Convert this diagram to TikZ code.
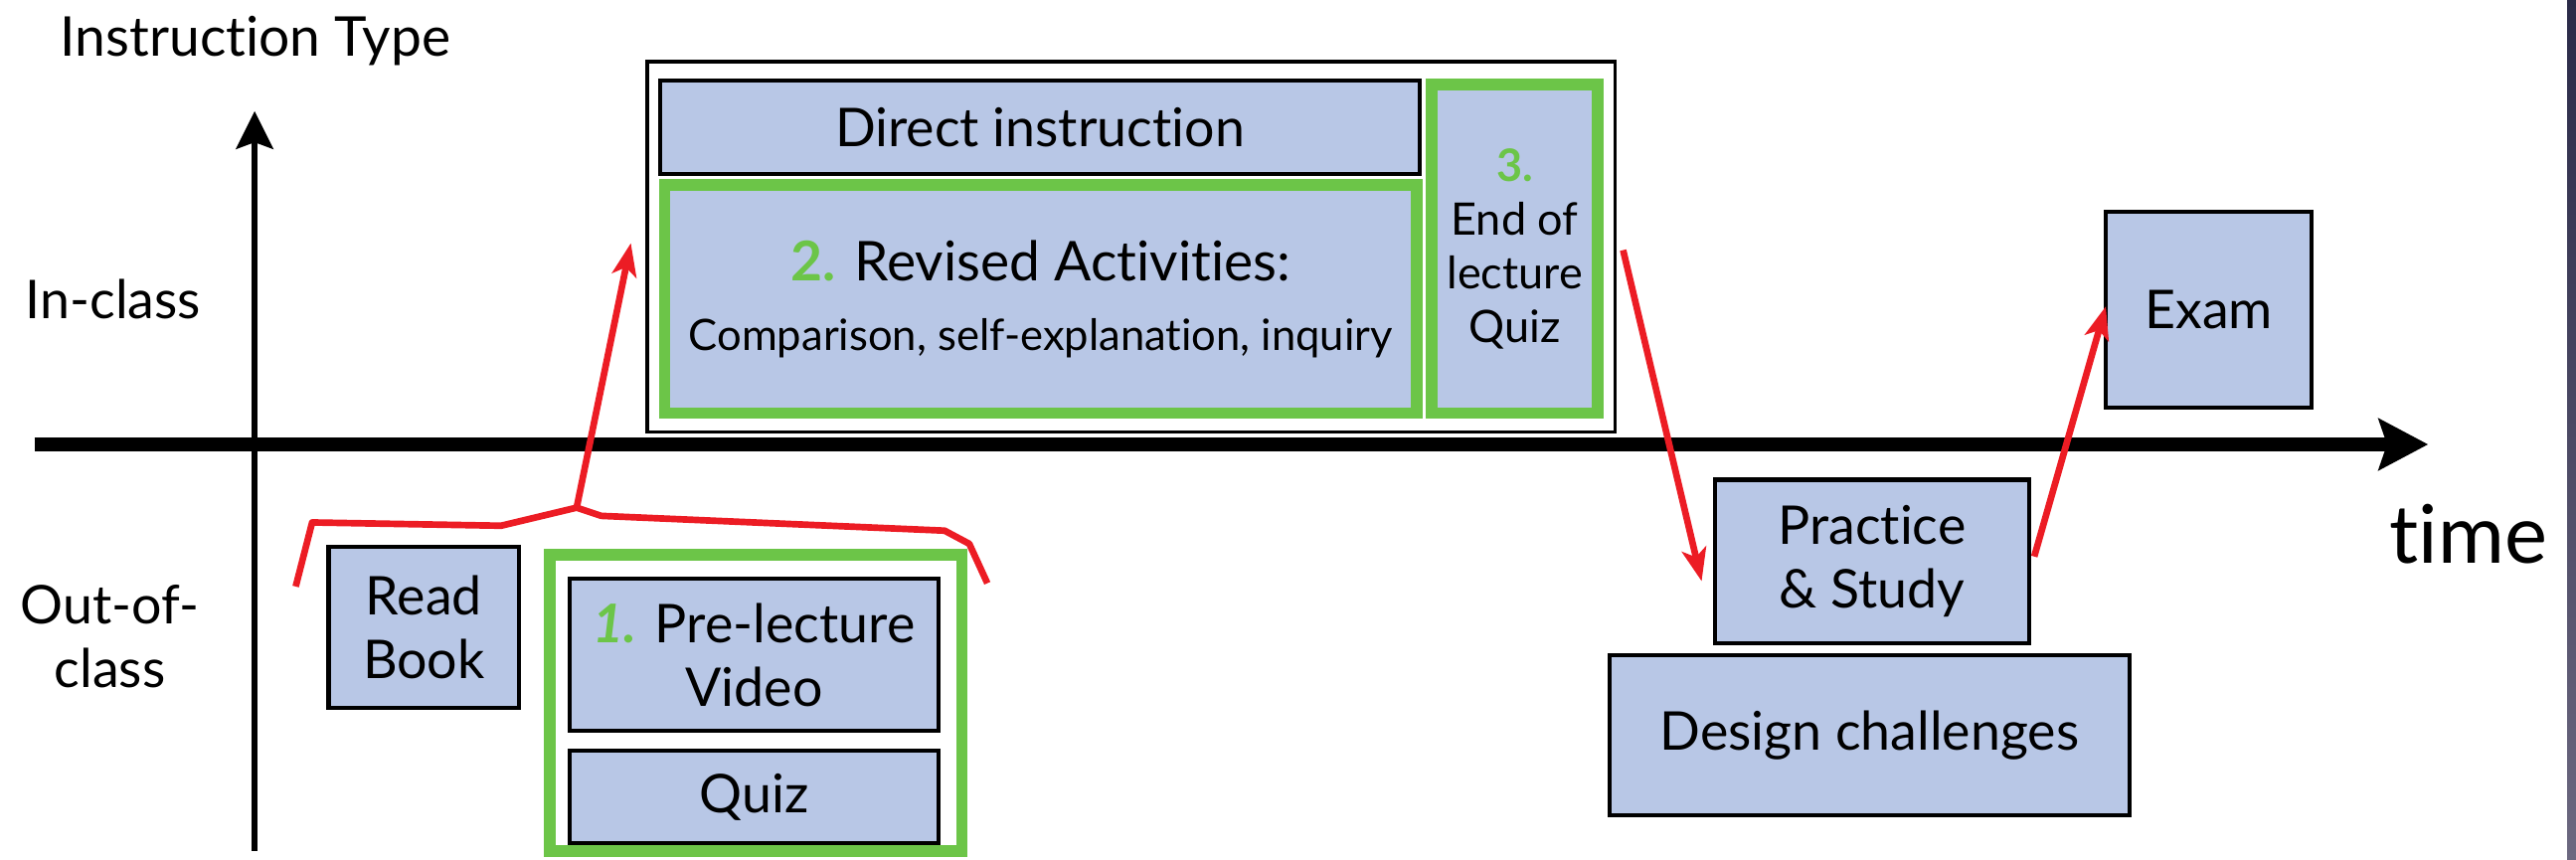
\documentclass[tikz,border=0pt]{standalone}
\usepackage{fontspec}
\setmainfont{Lato}[Ligatures={NoCommon,NoContextual}]
\usepackage{tikz}
\usetikzlibrary{arrows.meta,positioning,calc}
\definecolor{itBlue}{RGB}{184,199,230}
\definecolor{itGreen}{RGB}{108,197,72}
\definecolor{itRed}{RGB}{236,28,36}
\definecolor{itEdgeTop}{RGB}{42,42,72}
\definecolor{itEdgeBot}{RGB}{108,104,128}

\begin{document}
\begin{tikzpicture}[
  x=0.2mm, y=-0.2mm,
  font=\fontsize{18.5}{22}\selectfont,
  blk/.style={draw=black, line width=1.4pt, fill=itBlue, align=center, inner sep=0pt},
  grp/.style={draw=itGreen, line width=4pt, align=center, inner sep=0pt},
  lbl/.style={align=center, inner sep=0pt},
  num/.style={text=itGreen, font=\bfseries},
  redarr/.style={draw=itRed, line width=2.3pt, -{Stealth[length=4mm,width=3mm,inset=1mm]}}
]
\useasboundingbox (0,0) rectangle (1568,523);

%============ AXES ============
\draw[line width=2pt, -{Stealth[length=4.6mm,width=4.5mm,inset=0.8mm]}] (155,518) -- (155,67.6);
\draw[line width=4.5pt, -{Stealth[length=6mm,width=6.2mm,inset=1mm]}] (21,270.5) -- (1478,270.5);
\node[lbl, anchor=base, font=\fontsize{19}{22}\selectfont] (itype) at (155.5,34) {Instruction Type};
\node[lbl, anchor=base] (inclass) at (69,194) {In-class};
\node[lbl] (outclass) at (67,387.5) {Out-of-\\class};
\node[lbl, anchor=base, font=\fontsize{28}{32}\selectfont] (time) at (1502.5,343) {time};

%============ IN CLASS ============
\node[draw=black, line width=1.1pt, minimum width=117.8mm, minimum height=45.1mm] (frame) at (688.5,150.25) {};
\node[blk, minimum width=92.4mm, minimum height=11.4mm] (direct) at (633,77.5) {Direct instruction};
\node[grp, fill=itBlue, minimum width=91.6mm, minimum height=27.8mm] (revised) at (633.5,182)
  {{\fontsize{19}{22}\selectfont{\color{itGreen}\bfseries 2.} Revised Activities:}\\[2pt]
   {\fontsize{15}{18}\selectfont Comparison, self-explanation, inquiry}};
\node[grp, fill=itBlue, minimum width=20.2mm, minimum height=40mm, font=\fontsize{15.5}{18.5}\selectfont] (endquiz) at (922,151.5)
  {{\color{itGreen}\bfseries 3.}\\End of\\lecture\\Quiz};

%============ OUT OF CLASS ============
\node[blk, minimum width=23.2mm, minimum height=19.6mm] (readbook) at (258,382) {Read\\Book};
\node[grp, minimum width=50.2mm, minimum height=36.1mm] (pregroup) at (460,427.75) {};
\node[blk, minimum width=44.8mm, minimum height=18.6mm] (prevideo) at (459,398.5)
  {{\color{itGreen}\bfseries\itshape 1.} Pre-lecture\\Video};
\node[blk, minimum width=44.8mm, minimum height=11.2mm] (prequiz) at (459,485) {Quiz};

% after class
\node[blk, minimum width=38.2mm, minimum height=19.9mm] (practice) at (1139.5,341.75) {Practice\\\& Study};
\node[blk, minimum width=63.2mm, minimum height=19.4mm] (design) at (1138,447.5) {Design challenges};
\node[blk, minimum width=25mm, minimum height=23.8mm] (exam) at (1344.5,188.5) {Exam};

%============ FLOW ============
\draw[itRed, line width=2.3pt, line join=round]
  (180,357) -- (190,318) -- (305,320) -- (351,309) coordinate (apex) -- (366,314) -- (575,323) -- (590,331) -- (601,355);
\coordinate (stemtip) at (384,148);
\draw[redarr] (apex) -- (stemtip);
\draw[redarr] ($(frame.east)+(4,2)$) -- ($(practice.west)+(-7,12)$);
\draw[redarr] ($(practice.east)+(2,-3)$) -- ($(exam.west)+(1,-2)$);

% slide edge
\shade[top color=itEdgeTop, bottom color=itEdgeBot] (1562.6,0) rectangle (1568,523);
\end{tikzpicture}
\end{document}
